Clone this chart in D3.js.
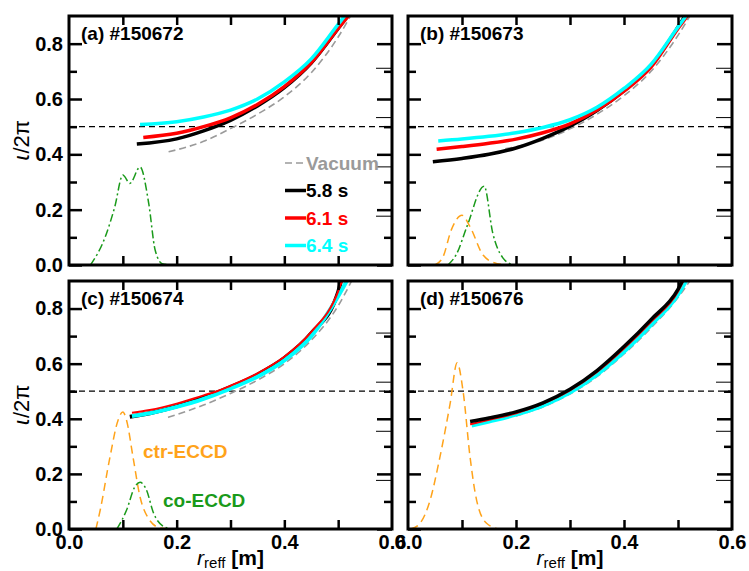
<!DOCTYPE html>
<html>
<head>
<meta charset="utf-8">
<script src="https://cdn.jsdelivr.net/npm/d3@7"></script>
<style>
body { margin: 0; background: #fff; }
text { font-family: "Liberation Sans", Arial, sans-serif; }
</style>
</head>
<body>
<div id="chart"></div>
<script>
// data points are [r_eff (m), iota/2pi]

// (a) #150672
var vacA = [[0.185,0.409],[0.25,0.447],[0.3,0.493],[0.35,0.545],[0.4,0.608],[0.45,0.695],[0.5,0.824],[0.523,0.9]];
var t58A = [[0.126,0.437],[0.2,0.456],[0.25,0.485],[0.3,0.523],[0.35,0.575],[0.4,0.641],[0.45,0.73],[0.5,0.855],[0.517,0.9]];
var t61A = [[0.138,0.461],[0.2,0.476],[0.25,0.5],[0.3,0.532],[0.35,0.58],[0.4,0.645],[0.45,0.732],[0.5,0.855],[0.519,0.9]];
var t64A = [[0.132,0.508],[0.2,0.518],[0.25,0.535],[0.3,0.56],[0.35,0.6],[0.4,0.662],[0.45,0.745],[0.5,0.87],[0.512,0.9]];
var coA  = [[0.04,0],[0.067,0.1],[0.085,0.21],[0.1,0.325],[0.113,0.295],[0.132,0.354],[0.148,0.224],[0.16,0.054],[0.173,0.005],[0.19,0]];

// (b) #150673
var vacB = [[0.18,0.42],[0.25,0.452],[0.3,0.492],[0.35,0.545],[0.4,0.612],[0.45,0.7],[0.5,0.83],[0.522,0.9]];
var t58B = [[0.046,0.373],[0.1,0.385],[0.15,0.4],[0.2,0.423],[0.25,0.458],[0.3,0.502],[0.35,0.558],[0.4,0.63],[0.45,0.72],[0.5,0.86],[0.513,0.9]];
var t61B = [[0.053,0.418],[0.1,0.428],[0.15,0.44],[0.2,0.455],[0.25,0.478],[0.3,0.51],[0.35,0.56],[0.4,0.628],[0.45,0.715],[0.5,0.855],[0.517,0.9]];
var t64B = [[0.056,0.448],[0.1,0.455],[0.15,0.465],[0.2,0.478],[0.25,0.497],[0.3,0.525],[0.35,0.57],[0.4,0.638],[0.45,0.725],[0.5,0.86],[0.515,0.9]];
var ctrB = [[0.05,0],[0.065,0.03],[0.08,0.126],[0.1,0.18],[0.115,0.138],[0.139,0.036],[0.165,0.005],[0.19,0]];
var coB  = [[0.074,0],[0.09,0.04],[0.109,0.138],[0.141,0.285],[0.157,0.115],[0.176,0.025],[0.195,0]];

// (c) #150674
var vacC = [[0.184,0.405],[0.25,0.45],[0.3,0.492],[0.35,0.54],[0.4,0.6],[0.45,0.685],[0.5,0.81],[0.525,0.9]];
var t58C = [[0.113,0.407],[0.15,0.42],[0.2,0.445],[0.25,0.477],[0.3,0.515],[0.35,0.56],[0.4,0.62],[0.45,0.71],[0.5,0.86],[0.505,0.9]];
var t61C = [[0.117,0.422],[0.15,0.432],[0.2,0.455],[0.25,0.485],[0.275,0.5],[0.3,0.52],[0.35,0.565],[0.4,0.625],[0.45,0.715],[0.5,0.862],[0.507,0.9]];
var t64C = [[0.117,0.41],[0.15,0.42],[0.2,0.443],[0.25,0.472],[0.288,0.5],[0.3,0.51],[0.35,0.553],[0.4,0.612],[0.45,0.7],[0.5,0.845],[0.516,0.9]];
var ctrC = [[0.05,0],[0.058,0.069],[0.076,0.26],[0.091,0.394],[0.1,0.425],[0.107,0.394],[0.119,0.26],[0.132,0.116],[0.147,0.04],[0.169,0.004],[0.19,0]];
var coC  = [[0.089,0],[0.107,0.069],[0.122,0.152],[0.132,0.17],[0.144,0.141],[0.157,0.058],[0.175,0.01],[0.19,0]];

// (d) #150676
var vacD = [[0.2,0.41],[0.25,0.443],[0.3,0.49],[0.35,0.553],[0.4,0.635],[0.45,0.73],[0.5,0.84],[0.522,0.9]];
var t58D = [[0.115,0.39],[0.15,0.403],[0.2,0.425],[0.25,0.458],[0.3,0.507],[0.35,0.575],[0.4,0.662],[0.45,0.76],[0.5,0.87],[0.508,0.9]];
var t61D = [[0.115,0.38],[0.15,0.396],[0.2,0.42],[0.25,0.455],[0.3,0.503],[0.35,0.57],[0.4,0.655],[0.45,0.752],[0.5,0.862],[0.51,0.9]];
var t64D = [[0.118,0.375],[0.15,0.39],[0.2,0.415],[0.25,0.448],[0.3,0.495],[0.35,0.56],[0.4,0.643],[0.45,0.74],[0.5,0.85],[0.515,0.9]];
var ctrD = [[0.005,0],[0.022,0.02],[0.041,0.105],[0.059,0.26],[0.078,0.455],[0.091,0.603],[0.102,0.5],[0.115,0.26],[0.127,0.105],[0.146,0.02],[0.17,0],[0.196,0]];

// ticks
var xMajor = [0, 0.2, 0.4, 0.6];
var xMinor = [0.1, 0.2, 0.3, 0.4, 0.5];
var yMajor = [0, 0.2, 0.4, 0.6, 0.8];
var yMinor = [0.1, 0.3, 0.5, 0.7];
var rightThin = [1, 2, 3, 4];
var resonance = 0.5;

var legendLabels = ["Vacuum", "5.8 s", "6.1 s", "6.4 s"];
var legendKeys = ["vac", "58", "61", "64"];

var styles = {
    vac: {color: "#9a9a9a", w: 1.6, dash: "7,4"},
    "58": {color: "#000", w: 3.5},
    "61": {color: "#ff0000", w: 3.5},
    "64": {color: "#00ffff", w: 3.5},
    ctr: {color: "#ffa31a", w: 1.5, dash: "8,5"},
    co: {color: "#1a9a1a", w: 1.5, dash: "8,3,2,3"}
};

var panels = [
    {title: "(a) #150672", left: 69, right: 392, top: 16, bottom: 265, yLab: true, xLab: false,
     lines: [[vacA,"vac"],[coA,"co"],[t58A,"58"],[t61A,"61"],[t64A,"64"]]},
    {title: "(b) #150673", left: 408, right: 732, top: 16, bottom: 265, yLab: false, xLab: false,
     lines: [[vacB,"vac"],[ctrB,"ctr"],[coB,"co"],[t58B,"58"],[t61B,"61"],[t64B,"64"]]},
    {title: "(c) #150674", left: 69, right: 392, top: 281, bottom: 529, yLab: true, xLab: true,
     lines: [[vacC,"vac"],[ctrC,"ctr"],[coC,"co"],[t58C,"58",4],[t64C,"64",4],[t61C,"61",2]]},
    {title: "(d) #150676", left: 408, right: 732, top: 281, bottom: 529, yLab: false, xLab: true,
     lines: [[vacD,"vac"],[ctrD,"ctr"],[t64D,"64",4],[t61D,"61",2],[t58D,"58",3.5]]}
];

var svg = d3.select("#chart").append("svg")
    .attr("width", 749)
    .attr("height", 571);

svg.append("rect").attr("width", 749).attr("height", 571).attr("fill", "#fff");

function styleAxis(g, sw) {
    g.select(".domain").remove();
    g.selectAll("line").attr("stroke", "#000").attr("stroke-width", sw);
    g.attr("font-size", 20)
        .attr("font-family", "'Liberation Sans', Arial, sans-serif")
        .attr("font-weight", "bold");
    g.selectAll("text").attr("fill", "#000");
}

panels.forEach(function(p, i) {
    var x = d3.scaleLinear().domain([0, 0.6]).range([p.left, p.right]);
    var y = d3.scaleLinear().domain([0, 0.9]).range([p.bottom, p.top]);
    var y2 = d3.scaleLinear().domain([0, 5.05]).range([p.bottom, p.top]);

    var clipId = "clip" + i;
    svg.append("clipPath").attr("id", clipId)
        .append("rect")
        .attr("x", p.left).attr("y", p.top)
        .attr("width", p.right - p.left).attr("height", p.bottom - p.top);

    var plot = svg.append("g").attr("clip-path", "url(#" + clipId + ")");

    // iota/2pi = 0.5 line
    plot.append("line")
        .attr("x1", x(0)).attr("x2", x(0.6))
        .attr("y1", y(resonance)).attr("y2", y(resonance))
        .attr("stroke", "#000").attr("stroke-width", 1.3)
        .attr("stroke-dasharray", "6,4");

    var line = d3.line()
        .x(d => x(d[0]))
        .y(d => y(d[1]))
        .curve(d3.curveMonotoneX);

    p.lines.forEach(function(l) {
        var s = styles[l[1]];
        plot.append("path")
            .datum(l[0])
            .attr("d", line)
            .attr("fill", "none")
            .attr("stroke", s.color)
            .attr("stroke-width", l[2] || s.w)
            .attr("stroke-dasharray", s.dash || null);
    });

    // ticks, all pointing inward
    var gl = svg.append("g").attr("transform", `translate(${p.left},0)`)
        .call(d3.axisLeft(y).tickValues(yMajor).tickSize(-13).tickPadding(6)
            .tickFormat(p.yLab ? d3.format(".1f") : ""));
    styleAxis(gl, 2.5);
    var gl2 = svg.append("g").attr("transform", `translate(${p.left},0)`)
        .call(d3.axisLeft(y).tickValues(yMinor).tickSize(-8).tickFormat(""));
    styleAxis(gl2, 2.5);

    var gr = svg.append("g").attr("transform", `translate(${p.right},0)`)
        .call(d3.axisRight(y).tickValues(yMajor).tickSize(-15).tickFormat(""));
    styleAxis(gr, 2.5);
    var gr2 = svg.append("g").attr("transform", `translate(${p.right},0)`)
        .call(d3.axisRight(y).tickValues(yMinor).tickSize(-8).tickFormat(""));
    styleAxis(gr2, 2.5);
    var gr3 = svg.append("g").attr("transform", `translate(${p.right},0)`)
        .call(d3.axisRight(y2).tickValues(rightThin).tickSize(-16).tickFormat(""));
    styleAxis(gr3, 1);

    var gt = svg.append("g").attr("transform", `translate(0,${p.top})`)
        .call(d3.axisTop(x).tickValues(xMinor).tickSize(-9).tickFormat(""));
    styleAxis(gt, 2.5);
    var gb = svg.append("g").attr("transform", `translate(0,${p.bottom})`)
        .call(d3.axisBottom(x).tickValues(xMinor).tickSize(-9).tickFormat(""));
    styleAxis(gb, 2.5);
    if (p.xLab) {
        var gbl = svg.append("g").attr("transform", `translate(0,${p.bottom})`)
            .call(d3.axisBottom(x).tickValues(xMajor).tickSize(0).tickPadding(6)
                .tickFormat(d3.format(".1f")));
        styleAxis(gbl, 0);
    }

    // frame
    svg.append("rect")
        .attr("x", p.left).attr("y", p.top)
        .attr("width", p.right - p.left).attr("height", p.bottom - p.top)
        .attr("fill", "none").attr("stroke", "#000").attr("stroke-width", 3);

    svg.append("text")
        .attr("x", p.left + 12).attr("y", p.top + 24)
        .attr("font-size", 19).attr("font-weight", "bold")
        .text(p.title);

    if (p.yLab) {
        var yl = svg.append("text")
            .attr("transform", `translate(29,${(p.top + p.bottom) / 2}) rotate(-90)`)
            .attr("text-anchor", "middle")
            .attr("font-size", 22);
        yl.append("tspan").attr("font-style", "italic")
            .attr("font-family", "'DejaVu Sans', sans-serif").text("ι");
        yl.append("tspan").text("/2π");
    }

    if (p.xLab) {
        var xl = svg.append("text")
            .attr("x", (p.left + p.right) / 2).attr("y", 565)
            .attr("text-anchor", "middle")
            .attr("font-size", 21);
        xl.append("tspan").attr("font-style", "italic").text("r");
        xl.append("tspan").attr("font-size", 15).attr("dy", 3).text("reff");
        xl.append("tspan").attr("dy", -3).attr("font-weight", "bold").text(" [m]");
    }

    // legend in (a)
    if (i === 0) {
        legendKeys.forEach(function(k, j) {
            var s = styles[k];
            var ly = 163 + j * 27.5;
            svg.append("line")
                .attr("x1", 285).attr("x2", 306)
                .attr("y1", ly).attr("y2", ly)
                .attr("stroke", s.color)
                .attr("stroke-width", k === "vac" ? 1.6 : 3.5)
                .attr("stroke-dasharray", s.dash || null);
            svg.append("text")
                .attr("x", 306).attr("y", ly + 6.5)
                .attr("font-size", 19).attr("font-weight", "bold")
                .attr("fill", s.color)
                .text(legendLabels[j]);
        });
    }

    // ECCD labels in (c)
    if (i === 2) {
        svg.append("text").attr("x", 143).attr("y", 458)
            .attr("font-size", 19).attr("font-weight", "bold")
            .attr("fill", styles.ctr.color).text("ctr-ECCD");
        svg.append("text").attr("x", 163).attr("y", 507)
            .attr("font-size", 19).attr("font-weight", "bold")
            .attr("fill", styles.co.color).text("co-ECCD");
    }
});
</script>
</body>
</html>
